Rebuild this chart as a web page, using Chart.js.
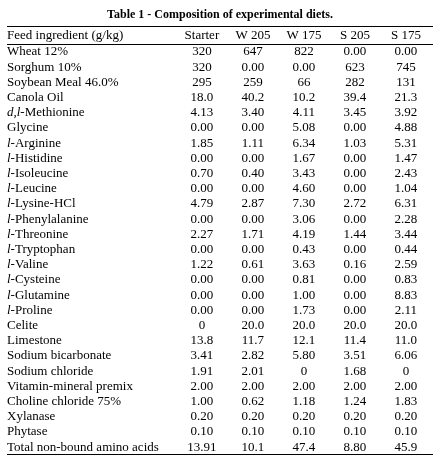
<!DOCTYPE html>
<html>
<head>
<meta charset="utf-8">
<script src="https://cdn.jsdelivr.net/npm/chart.js@4"></script>
<style>
  body { margin: 0; background: #fff; }
  #wrap { width: 440px; height: 462px; }
</style>
</head>
<body>
<div id="wrap"><canvas id="table"></canvas></div>
<script>
const title = "Table 1 - Composition of experimental diets.";
const headerLabel = "Feed ingredient (g/kg)";
const diets = ["Starter", "W 205", "W 175", "S 205", "S 175"];
// italic prefix, name
const ingredients = [
  ["", "Wheat 12%"], ["", "Sorghum 10%"], ["", "Soybean Meal 46.0%"], ["", "Canola Oil"],
  ["d,l", "-Methionine"], ["", "Glycine"], ["l", "-Arginine"], ["l", "-Histidine"],
  ["l", "-Isoleucine"], ["l", "-Leucine"], ["l", "-Lysine-HCl"], ["l", "-Phenylalanine"],
  ["l", "-Threonine"], ["l", "-Tryptophan"], ["l", "-Valine"], ["l", "-Cysteine"],
  ["l", "-Glutamine"], ["l", "-Proline"], ["", "Celite"], ["", "Limestone"],
  ["", "Sodium bicarbonate"], ["", "Sodium chloride"], ["", "Vitamin-mineral premix"],
  ["", "Choline chloride 75%"], ["", "Xylanase"], ["", "Phytase"], ["", "Total non-bound amino acids"]
];
const starter = ["320","320","295","18.0","4.13","0.00","1.85","0.00","0.70","0.00","4.79","0.00","2.27","0.00","1.22","0.00","0.00","0.00","0","13.8","3.41","1.91","2.00","1.00","0.20","0.10","13.91"];
const w205 = ["647","0.00","259","40.2","3.40","0.00","1.11","0.00","0.40","0.00","2.87","0.00","1.71","0.00","0.61","0.00","0.00","0.00","20.0","11.7","2.82","2.01","2.00","0.62","0.20","0.10","10.1"];
const w175 = ["822","0.00","66","10.2","4.11","5.08","6.34","1.67","3.43","4.60","7.30","3.06","4.19","0.43","3.63","0.81","1.00","1.73","20.0","12.1","5.80","0","2.00","1.18","0.20","0.10","47.4"];
const s205 = ["0.00","623","282","39.4","3.45","0.00","1.03","0.00","0.00","0.00","2.72","0.00","1.44","0.00","0.16","0.00","0.00","0.00","20.0","11.4","3.51","1.68","2.00","1.24","0.20","0.10","8.80"];
const s175 = ["0.00","745","131","21.3","3.92","4.88","5.31","1.47","2.43","1.04","6.31","2.28","3.44","0.44","2.59","0.83","8.83","2.11","20.0","11.0","6.06","0","2.00","1.83","0.20","0.10","45.9"];
const columns = [starter, w205, w175, s205, s175];

const FONT = "13px 'Liberation Serif', 'DejaVu Serif', serif";

const points = [];
columns.forEach((col, c) => col.forEach((v, r) => points.push({ x: c + 1, y: r, label: v })));

const tablePlugin = {
  id: "tableText",
  afterDraw(chart) {
    const ctx = chart.ctx, xs = chart.scales.x, ys = chart.scales.y, area = chart.chartArea;
    ctx.save();
    ctx.fillStyle = "#000";
    ctx.textBaseline = "middle";
    // title
    ctx.font = "bold 12px 'Liberation Serif', serif";
    ctx.textAlign = "center";
    ctx.fillText(title, (area.left + area.right) / 2, ys.getPixelForValue(-2.45));
    // rules
    ctx.strokeStyle = "#000";
    ctx.lineWidth = 1.1;
    [-1.71, -0.54, 26.45].forEach(v => {
      const y = Math.round(ys.getPixelForValue(v)) + 0.5;
      ctx.beginPath(); ctx.moveTo(area.left, y); ctx.lineTo(area.right, y); ctx.stroke();
    });
    // header
    ctx.font = FONT;
    ctx.textAlign = "left";
    ctx.fillText(headerLabel, area.left, ys.getPixelForValue(-1.1));
    ctx.textAlign = "center";
    diets.forEach((d, i) => ctx.fillText(d, xs.getPixelForValue(i + 1), ys.getPixelForValue(-1.1)));
    // row names
    ingredients.forEach(([pre, name], r) => {
      const y = ys.getPixelForValue(r);
      let x = area.left;
      ctx.textAlign = "left";
      if (pre) {
        ctx.font = "italic 13px 'Liberation Serif', serif";
        ctx.fillText(pre, x, y);
        x += ctx.measureText(pre).width;
      }
      ctx.font = FONT;
      ctx.fillText(name, x, y);
    });
    // cells
    ctx.textAlign = "center";
    chart.data.datasets[0].data.forEach(p => {
      ctx.fillText(p.label, xs.getPixelForValue(p.x), ys.getPixelForValue(p.y));
    });
    ctx.restore();
  }
};

new Chart("table", {
  type: "scatter",
  data: { datasets: [{ data: points, pointRadius: 0, pointHoverRadius: 0 }] },
  options: {
    responsive: true,
    maintainAspectRatio: false,
    animation: false,
    events: [],
    layout: { padding: { left: 7, right: 7, top: 26, bottom: 8 } },
    scales: {
      x: { type: "linear", display: false, min: -2.82, max: 5.53 },
      y: { type: "linear", display: false, reverse: true, min: -1.71, max: 26.45 }
    },
    plugins: { legend: { display: false }, tooltip: { enabled: false } }
  },
  plugins: [tablePlugin]
});
</script>
</body>
</html>
